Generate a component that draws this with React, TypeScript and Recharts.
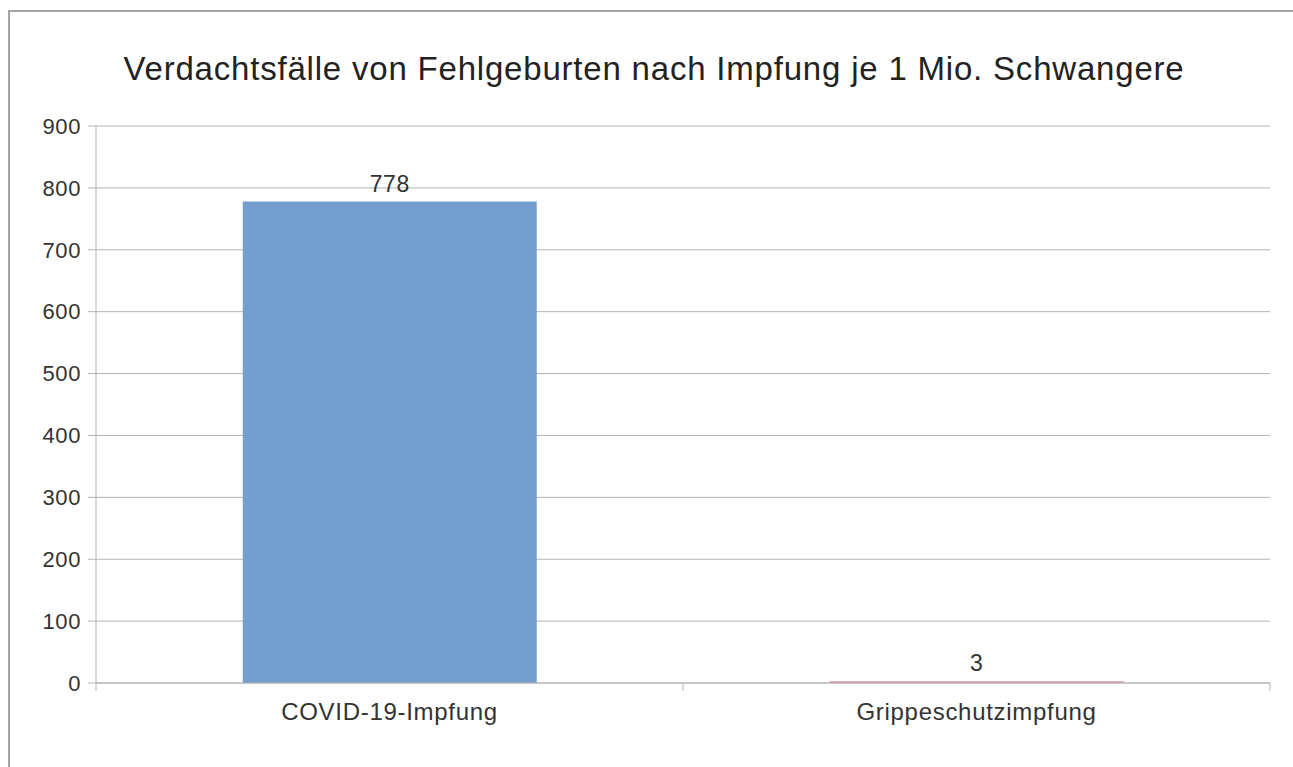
import { BarChart, Bar, XAxis, YAxis, CartesianGrid, LabelList, Cell } from "recharts";

const categories = ["COVID-19-Impfung", "Grippeschutzimpfung"];
const cases = [778, 3];
const barColors = ["#729fcf", "#d895ad"];
const yTicks = [0, 100, 200, 300, 400, 500, 600, 700, 800, 900];

const title = "Verdachtsfälle von Fehlgeburten nach Impfung je 1 Mio. Schwangere";

const data = categories.map((name, i) => ({ name, value: cases[i] }));

const W = 1293;
const H = 767;
const margin = { top: 126, right: 23, bottom: 0, left: 0 };
const xAxisHeight = 84;
const yAxisWidth = 96;
const font = "'Liberation Sans', Arial, sans-serif";
const lineColor = "#b3b3b3";
const textColor = "#333333";

const TICK_SIZE = 8;
const TICK_MARGIN = 12;

// category label plus the separator ticks at the band edges
function CategoryTick(props: any) {
  const { x, y, payload, index } = props;
  const plotWidth = W - margin.left - margin.right - yAxisWidth;
  const half = plotWidth / categories.length / 2;
  const y1 = y - TICK_SIZE - TICK_MARGIN;
  const y2 = y1 + TICK_SIZE;
  return (
    <g>
      <line x1={x - half} x2={x - half} y1={y1} y2={y2} stroke={lineColor} />
      {index === categories.length - 1 && (
        <line x1={x + half} x2={x + half} y1={y1} y2={y2} stroke={lineColor} />
      )}
      <text
        x={x}
        y={y}
        dy="0.71em"
        textAnchor="middle"
        fill={textColor}
        fontSize={24}
        letterSpacing={0.7}
        fontFamily={font}
      >
        {payload.value}
      </text>
    </g>
  );
}

export default function App() {
  return (
    <div style={{ position: "absolute", left: 0, top: 0, width: W, height: H, overflow: "hidden", background: "#fff" }}>
      <div
        style={{
          position: "absolute",
          left: 8,
          top: 10,
          width: W,
          height: H,
          borderLeft: "2px solid #a3a3a3",
          borderTop: "2px solid #a3a3a3",
        }}
      />
      <div
        style={{
          position: "absolute",
          left: 654,
          top: 52,
          transform: "translateX(-50%)",
          whiteSpace: "nowrap",
          fontFamily: font,
          fontSize: 33,
          letterSpacing: 0.8,
          lineHeight: "33px",
          color: "#222",
        }}
      >
        {title}
      </div>
      <div style={{ position: "absolute", left: 0, top: 0 }}>
        <BarChart width={W} height={H} data={data} margin={margin} barCategoryGap="25%">
          <CartesianGrid vertical={false} stroke={lineColor} />
          <XAxis
            dataKey="name"
            axisLine={{ stroke: lineColor }}
            tickLine={false}
            tickSize={TICK_SIZE}
            tickMargin={TICK_MARGIN}
            tick={<CategoryTick />}
            height={xAxisHeight}
            interval={0}
          />
          <YAxis
            domain={[0, 900]}
            ticks={yTicks}
            width={yAxisWidth}
            axisLine={{ stroke: lineColor }}
            tickLine={{ stroke: lineColor }}
            tickSize={TICK_SIZE}
            tickMargin={7}
            tick={{ fill: textColor, fontSize: 22, fontFamily: font, letterSpacing: 0.6 }}
          />
          <YAxis yAxisId="frame" orientation="right" width={0} tick={false} axisLine={{ stroke: lineColor }} />
          <Bar dataKey="value" isAnimationActive={false}>
            {data.map((d, i) => (
              <Cell key={d.name} fill={barColors[i]} />
            ))}
            <LabelList
              dataKey="value"
              position="top"
              offset={10}
              fill={textColor}
              fontSize={23}
              letterSpacing={0.6}
              fontFamily={font}
            />
          </Bar>
        </BarChart>
      </div>
    </div>
  );
}
